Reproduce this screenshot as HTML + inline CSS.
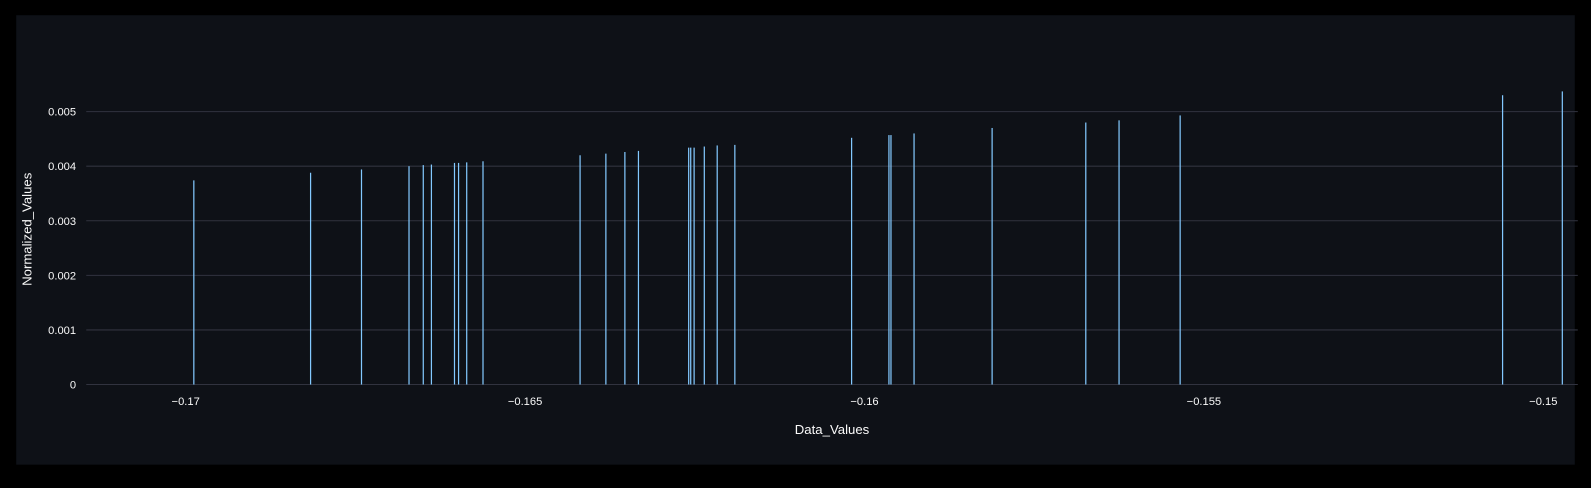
<!DOCTYPE html>
<html><head><meta charset="utf-8"><style>
html,body{margin:0;padding:0;background:#000;}
#wrap{position:relative;width:1591px;height:488px;background:#000;}
svg{position:absolute;left:0;top:0;}
text{font-family:"Liberation Sans",sans-serif;fill:#fafafa;}
</style></head><body>
<div id="wrap">
<svg id="chart" width="1591" height="488" viewBox="0 0 1568 481" preserveAspectRatio="none"></svg>
</div>
<script>
const xValues=[-0.16988,-0.16816,-0.16741,-0.16671,-0.16650,-0.16638,-0.16604,-0.16598,-0.16586,-0.16562,-0.16419,-0.16381,-0.16353,-0.16333,-0.16259,-0.16256,-0.16251,-0.16236,-0.16217,-0.16191,-0.16019,-0.15964,-0.15961,-0.15927,-0.15812,-0.15674,-0.15625,-0.15535,-0.15060,-0.14972];
const yValues=[0.00374,0.00388,0.00394,0.00400,0.00402,0.00403,0.00406,0.00406,0.00407,0.00409,0.00420,0.00423,0.00426,0.00428,0.00434,0.00434,0.00434,0.00436,0.00438,0.00439,0.00452,0.00457,0.00457,0.00460,0.00470,0.00480,0.00484,0.00493,0.00530,0.00537];
const xTicks=[-0.17,-0.165,-0.16,-0.155,-0.15];
const xTickLabels=["−0.17","−0.165","−0.16","−0.155","−0.15"];
const yTicks=[0,0.001,0.002,0.003,0.004,0.005];
const yTickLabels=["0","0.001","0.002","0.003","0.004","0.005"];

const NS="http://www.w3.org/2000/svg";
const svg=document.getElementById('chart');
const L=85,R=1555,T=72,B=379;
const x0=-0.17,xPxPerUnit=66900,xOrigin=183;
function xs(v){return xOrigin+(v-x0)*xPxPerUnit;}
function ys(v){return B-v*53800;}
function mk(tag,attrs,parent){const e=document.createElementNS(NS,tag);for(const k in attrs)e.setAttribute(k,attrs[k]);(parent||svg).appendChild(e);return e;}

const bg=mk('rect',{x:16,y:15,width:1536,height:443,fill:'#0e1117'});



yTicks.forEach((t,i)=>{
  const y=ys(t);
  const g=mk('line',{x1:L,x2:R,y1:y,y2:y,stroke:'#31333f','stroke-width':1});
  
  
  const tx=mk('text',{x:L-10,y:y+4,'text-anchor':'end','font-size':11});
  tx.textContent=yTickLabels[i];
  
  
});
xTicks.forEach((t,i)=>{
  const tx=mk('text',{x:xs(t),y:399,'text-anchor':'middle','font-size':11});
  tx.textContent=xTickLabels[i];
  
  
});
xValues.forEach((v,i)=>{
  const x=xs(v),y=ys(yValues[i]);
  const b=mk('rect',{x:x-0.6,y:y,width:1.2,height:B-y,fill:'#83c9ff'});
  
  
});
const xt=mk('text',{x:820,y:428,'text-anchor':'middle','font-size':13});
xt.textContent='Data_Values';


const yt=mk('text',{x:31,y:226,'text-anchor':'middle','font-size':13,transform:'rotate(-90 31 226)'});
yt.textContent='Normalized_Values';


</script>
</body></html>
